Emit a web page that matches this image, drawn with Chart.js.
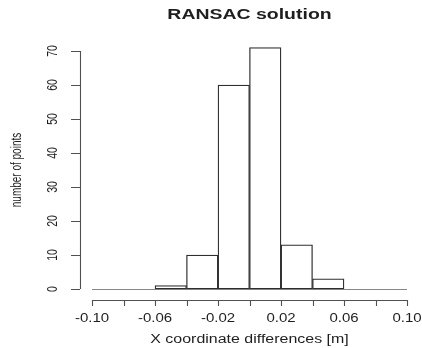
<!DOCTYPE html>
<html>
<head>
  <title>RANSAC solution</title>
  <script src="https://cdn.jsdelivr.net/npm/chart.js"></script>
  <style>
    body {
      margin: 0;
      background-color: #fff;
    }
    canvas {
      display: block;
    }
  </style>
</head>
<body>
  <canvas id="histChart" width="422" height="348"></canvas>

  <script>
    // histogram bins (left edge) and counts
    const binStart = [-0.10, -0.08, -0.06, -0.04, -0.02, 0.00, 0.02, 0.04, 0.06, 0.08];
    const binWidth = 0.02;
    const counts = [0, 0, 1, 10, 60, 71, 13, 3, 0, 0];

    const xTicks = [-0.10, -0.08, -0.06, -0.04, -0.02, 0.00, 0.02, 0.04, 0.06, 0.08, 0.10];
    const xTickLabels = ['-0.10', '', '-0.06', '', '-0.02', '', '0.02', '', '0.06', '', '0.10'];
    const yTicks = [0, 10, 20, 30, 40, 50, 60, 70];
    const yTickLabels = ['0', '10', '20', '30', '40', '50', '60', '70'];

    const mainTitle = 'RANSAC solution';
    const xTitle = 'X coordinate differences [m]';
    const yTitle = 'number of points';

    // R draws text a bit wide in this picture, so stretch it horizontally
    function drawText(ctx, str, x, y, sx, vertical) {
      ctx.save();
      ctx.translate(x, y);
      ctx.scale(sx, 1);
      if (vertical) ctx.rotate(-Math.PI / 2);
      ctx.fillText(str, 0, 0);
      ctx.restore();
    }

    const rStyleAxes = {
      id: 'rStyleAxes',
      beforeDatasetsDraw(chart) {
        const ctx = chart.ctx;
        const xs = chart.scales.x;
        const ys = chart.scales.y;
        // empty bins show as a flat line on zero
        ctx.save();
        ctx.strokeStyle = '#888';
        ctx.lineWidth = 1;
        ctx.beginPath();
        ctx.moveTo(xs.getPixelForValue(xTicks[0]), ys.getPixelForValue(0) + 0.5);
        ctx.lineTo(xs.getPixelForValue(xTicks[xTicks.length - 1]), ys.getPixelForValue(0) + 0.5);
        ctx.stroke();
        ctx.restore();
      },
      afterDraw(chart) {
        const ctx = chart.ctx;
        const xs = chart.scales.x;
        const ys = chart.scales.y;
        const axisY = ys.getPixelForValue(0) + 11;
        const axisX = xs.getPixelForValue(xTicks[0]) - 12;

        ctx.save();
        ctx.strokeStyle = '#505050';
        ctx.lineWidth = 1.1;

        // x axis
        ctx.beginPath();
        ctx.moveTo(xs.getPixelForValue(xTicks[0]), axisY + 0.5);
        ctx.lineTo(xs.getPixelForValue(xTicks[xTicks.length - 1]), axisY + 0.5);
        xTicks.forEach(v => {
          const px = Math.round(xs.getPixelForValue(v)) + 0.5;
          ctx.moveTo(px, axisY);
          ctx.lineTo(px, axisY + 6);
        });
        ctx.stroke();

        // y axis
        ctx.beginPath();
        ctx.moveTo(axisX + 0.5, ys.getPixelForValue(yTicks[0]));
        ctx.lineTo(axisX + 0.5, ys.getPixelForValue(yTicks[yTicks.length - 1]));
        yTicks.forEach(v => {
          const py = Math.round(ys.getPixelForValue(v)) + 0.5;
          ctx.moveTo(axisX, py);
          ctx.lineTo(axisX - 9, py);
        });
        ctx.stroke();

        ctx.fillStyle = '#1e1e1e';
        ctx.textAlign = 'center';
        ctx.textBaseline = 'middle';

        ctx.font = '12px "Liberation Sans", Arial, sans-serif';
        xTicks.forEach((v, i) => {
          if (xTickLabels[i]) drawText(ctx, xTickLabels[i], xs.getPixelForValue(v), axisY + 19, 1.25, false);
        });
        ctx.font = '10.5px "Liberation Sans", Arial, sans-serif';
        yTicks.forEach((v, i) => {
          drawText(ctx, yTickLabels[i], axisX - 27, ys.getPixelForValue(v), 1.45, true);
        });

        // titles
        const midX = (xs.getPixelForValue(xTicks[0]) + xs.getPixelForValue(xTicks[xTicks.length - 1])) / 2;
        const midY = (ys.getPixelForValue(yTicks[0]) + ys.getPixelForValue(yTicks[yTicks.length - 1])) / 2;
        ctx.font = '12px "Liberation Sans", Arial, sans-serif';
        drawText(ctx, xTitle, midX, axisY + 40, 1.33, false);
        ctx.font = '10px "Liberation Sans", Arial, sans-serif';
        drawText(ctx, yTitle, 17, midY, 1.45, true);
        ctx.font = 'bold 14px "Liberation Sans", Arial, sans-serif';
        drawText(ctx, mainTitle, midX, 15, 1.39, false);

        ctx.restore();
      }
    };

    const ctx = document.getElementById('histChart').getContext('2d');

    const chart = new Chart(ctx, {
      type: 'bar',
      data: {
        datasets: [{
          label: 'counts',
          data: binStart.map((b, i) => ({ x: b + binWidth / 2, y: counts[i] })),
          backgroundColor: '#fff',
          borderColor: '#2e2e2e',
          borderWidth: 1.3,
          borderSkipped: false,
          barPercentage: 1,
          categoryPercentage: 1,
          clip: false
        }]
      },
      options: {
        responsive: false,
        animation: false,
        layout: {
          padding: { left: 92, right: 15, top: 51, bottom: 59 }
        },
        scales: {
          x: {
            type: 'linear',
            min: -0.10,
            max: 0.10,
            offset: false,
            display: false
          },
          y: {
            min: 0,
            max: 70,
            display: false
          }
        },
        plugins: {
          legend: { display: false },
          tooltip: { enabled: false }
        }
      },
      plugins: [rStyleAxes]
    });
  </script>
</body>
</html>
